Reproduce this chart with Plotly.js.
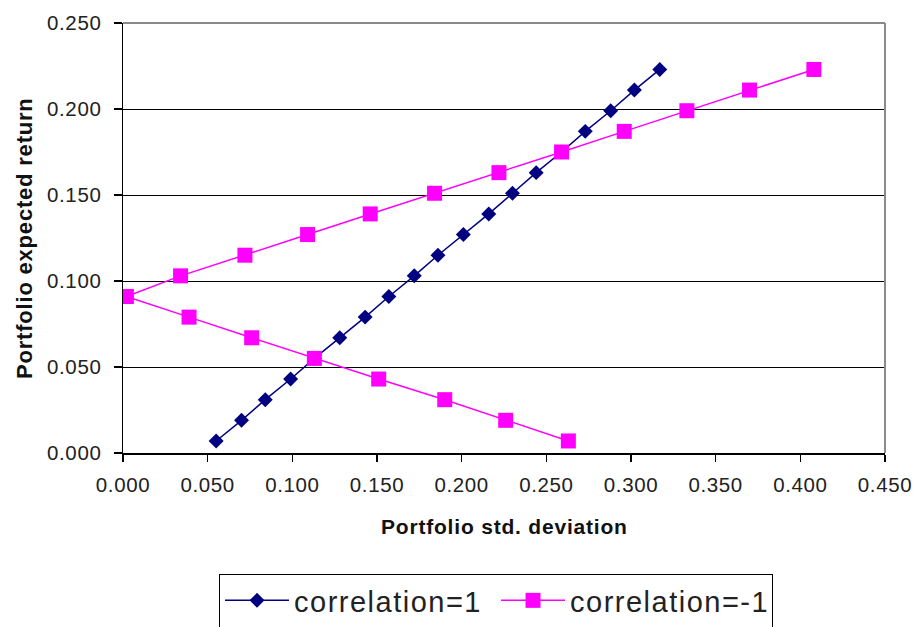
<!DOCTYPE html>
<html><head><meta charset="utf-8">
<script src="https://cdn.plot.ly/plotly-3.0.1.min.js"></script>
<style>
html,body{margin:0;padding:0;background:#fff}
#chart{width:917px;height:627px}
.legendtext{letter-spacing:1.5px}
.xtick text,.ytick text{letter-spacing:0.6px}
.annotation-text{letter-spacing:0.8px}
.legend rect.bg{height:80px}
</style>
</head><body><div id="chart"></div>
<script>
// Series names
const seriesNames = ['correlation=1', 'correlation=-1'];

// correlation = 1 (navy diamonds)
const stdCorrPos = [0.055, 0.070, 0.084, 0.099, 0.113, 0.128, 0.143, 0.157, 0.172, 0.186,
                    0.201, 0.216, 0.230, 0.244, 0.259, 0.273, 0.288, 0.302, 0.317];
const retCorrPos = [0.007, 0.019, 0.031, 0.043, 0.055, 0.067, 0.079, 0.091, 0.103, 0.115,
                    0.127, 0.139, 0.151, 0.163, 0.175, 0.187, 0.199, 0.211, 0.223];

// correlation = -1 (magenta squares)
const stdCorrNeg = [0.263, 0.226, 0.190, 0.151, 0.113, 0.076, 0.039, 0.002, 0.034, 0.072,
                    0.109, 0.146, 0.184, 0.222, 0.259, 0.296, 0.333, 0.370, 0.408];
const retCorrNeg = [0.007, 0.019, 0.031, 0.043, 0.055, 0.067, 0.079, 0.091, 0.103, 0.115,
                    0.127, 0.139, 0.151, 0.163, 0.175, 0.187, 0.199, 0.211, 0.223];

// Tick labels
const xTickVals = [0, 0.05, 0.10, 0.15, 0.20, 0.25, 0.30, 0.35, 0.40, 0.45];
const xTickText = ['0.000', '0.050', '0.100', '0.150', '0.200', '0.250', '0.300', '0.350', '0.400', '0.450'];
const yTickVals = [0, 0.05, 0.10, 0.15, 0.20, 0.25];
const yTickText = ['0.000', '0.050', '0.100', '0.150', '0.200', '0.250'];

// Axis titles
const xTitle = 'Portfolio std. deviation';
const yTitle = 'Portfolio expected return';

const FONT = 'Liberation Sans, Arial, sans-serif';

const traces = [
  {
    x: stdCorrPos, y: retCorrPos, name: seriesNames[0], type: 'scatter', mode: 'lines+markers',
    line: {color: '#000080', width: 1.5},
    marker: {symbol: 'diamond', size: 11.5, color: '#000080'}
  },
  {
    x: stdCorrNeg, y: retCorrNeg, name: seriesNames[1], type: 'scatter', mode: 'lines+markers',
    line: {color: '#FF00FF', width: 1.5},
    marker: {symbol: 'square', size: 15, color: '#FF00FF'}
  }
];

const layout = {
  width: 917, height: 627,
  margin: {l: 123, r: 32, t: 23, b: 174, autoexpand: false},
  paper_bgcolor: '#ffffff', plot_bgcolor: '#ffffff',
  font: {family: FONT, color: '#222222'},
  showlegend: true,
  legend: {
    orientation: 'h', x: 0.126, y: -0.2814, xanchor: 'left', yanchor: 'top',
    bordercolor: '#000000', borderwidth: 1, bgcolor: '#ffffff',
    font: {family: FONT, size: 29, color: '#222222'},
    itemwidth: 64, entrywidth: 197, entrywidthmode: 'pixels'
  },
  xaxis: {
    range: [0, 0.45], tickvals: xTickVals, ticktext: xTickText,
    showgrid: false, zeroline: false,
    showline: true, linecolor: '#000000', linewidth: 1.5,
    ticks: 'outside', ticklen: 7, tickwidth: 1.5, tickcolor: '#000000',
    tickfont: {family: FONT, size: 20.5, color: '#222222'},
    ticklabelstandoff: 6
  },
  yaxis: {
    range: [0, 0.25], tickvals: yTickVals, ticktext: yTickText,
    showgrid: true, gridcolor: '#000000', gridwidth: 1, zeroline: false,
    showline: true, linecolor: '#000000', linewidth: 1.5,
    ticks: 'outside', ticklen: 8, tickwidth: 1.5, tickcolor: '#000000',
    tickfont: {family: FONT, size: 20.5, color: '#222222'},
    ticklabelstandoff: 8
  },
  shapes: [
    {type: 'line', xref: 'paper', yref: 'paper', x0: 0, x1: 1, y0: 1, y1: 1, line: {color: '#8a8a8a', width: 2}},
    {type: 'line', xref: 'paper', yref: 'paper', x0: 1, x1: 1, y0: 0, y1: 1, line: {color: '#8a8a8a', width: 2}}
  ],
  annotations: [
    {text: '<b>' + xTitle + '</b>', xref: 'paper', yref: 'paper', x: 0.5, y: 0, yshift: -73,
     xanchor: 'center', yanchor: 'middle', showarrow: false,
     font: {family: FONT, size: 21, color: '#111111'}},
    {text: '<b>' + yTitle + '</b>', xref: 'paper', yref: 'paper', x: 0, y: 0.5, xshift: -99,
     xanchor: 'center', yanchor: 'middle', showarrow: false, textangle: -90,
     font: {family: FONT, size: 22, color: '#111111'}}
  ]
};

Plotly.newPlot('chart', traces, layout, {displayModeBar: false, staticPlot: true});
</script>
</body></html>
